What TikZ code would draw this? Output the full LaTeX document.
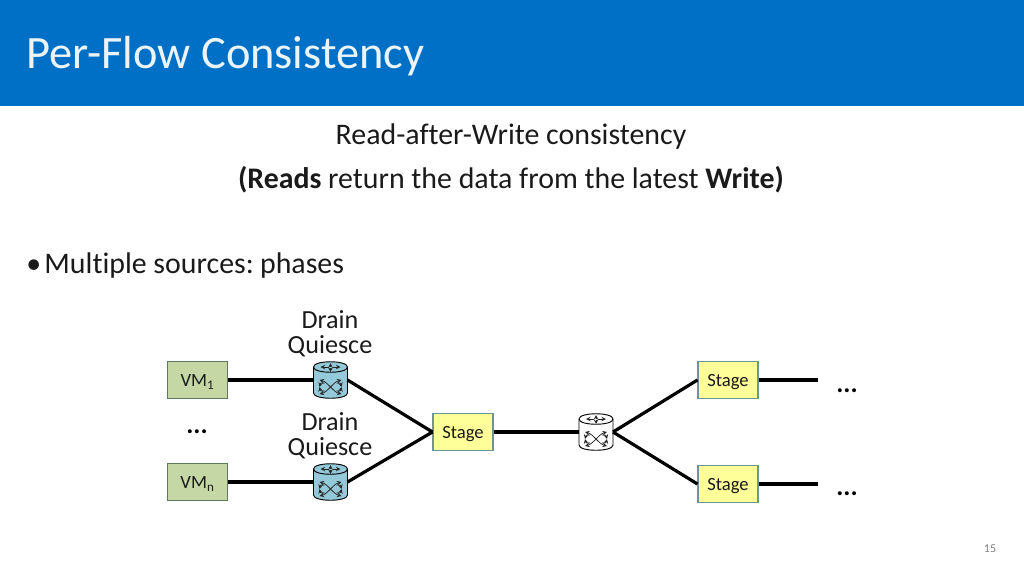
\documentclass[tikz,border=0pt]{standalone}
\usepackage{fontspec}
\setmainfont{Carlito}[Ligatures=NoCommon]
\definecolor{bandblue}{HTML}{0070C6}
\definecolor{vmgreen}{HTML}{C4D7A4}
\definecolor{vmedge}{HTML}{5E7A5E}
\definecolor{stageyellow}{HTML}{FFFF99}
\definecolor{stageedge}{HTML}{6F9494}
\definecolor{routerblue}{HTML}{93C9D8}
\definecolor{textgray}{HTML}{1A1A1A}
\tikzset{
	vmbox/.style={draw=vmedge, fill=vmgreen, line width=0.8pt, minimum width=45.5pt, minimum height=27.5pt, inner sep=0pt, text height=13pt, text depth=3pt, font=\fontsize{14}{16}\selectfont, text=textgray},
	stagebox/.style={draw=stageedge, fill=stageyellow, line width=0.8pt, minimum width=45pt, minimum height=27.5pt, inner sep=0pt, text height=13pt, text depth=3pt, font=\fontsize{14}{16}\selectfont, text=textgray},
	routerbox/.style={minimum width=25.5pt, minimum height=28pt, inner sep=0pt, outer sep=0pt},
	routerline/.style={line width=0.55pt, black!85, >=stealth},
	link/.style={line width=2.4pt},
	dots/.style={font=\fontsize{20}{22}\selectfont\bfseries, text=black, inner sep=0pt},
	body/.style={font=\fontsize{22.4}{26}\selectfont, text=textgray, inner sep=0pt},
	caption/.style={font=\fontsize{19.6}{19}\selectfont, text=textgray, align=center, inner sep=0pt}
}
\newcommand{\routernode}[3]{
	\node[routerbox] (#1) at (#2) {};
	\begin{scope}[shift={(#1.center)}]
		\draw[fill=#3, line width=0.7pt] (-17,-13) -- (-17,13) .. controls (-17,20) and (17,20) .. (17,13) -- (17,-13) .. controls (17,-20) and (-17,-20) .. (-17,-13) -- cycle;
		\draw[line width=0.7pt] (-17,-13) .. controls (-17,-6) and (17,-6) .. (17,-13);
		\draw[routerline, ->] (-2,-13) -- (-10,-13);
		\draw[routerline, ->] (2,-13) -- (10,-13);
		\draw[routerline, ->] (0,-13) -- (0,-17);
		\draw[routerline, ->] (0,-12) -- (0,-8);
		\draw[routerline, <->] (-11,14) .. controls (-3,12) and (3,2) .. (11,0);
		\draw[routerline, <->] (-11,0) .. controls (-3,2) and (3,12) .. (11,14);
		\draw[routerline, ->] (-6,3) .. controls (-10,3) .. (-11,7);
		\draw[routerline, ->] (6,3) .. controls (10,3) .. (11,7);
		\draw[routerline, ->] (-6,11) .. controls (-10,11) .. (-11,7);
		\draw[routerline, ->] (6,11) .. controls (10,11) .. (11,7);
	\end{scope}
}
\begin{document}
\begin{tikzpicture}[x=0.75pt, y=-0.75pt]
	\useasboundingbox (0,0) rectangle (1024,576);
	\fill[bandblue] (0,0) rectangle (1024,106);
	\node[anchor=west, text=white!92!bandblue, inner sep=0pt, font=\fontsize{34.8}{38}\selectfont] (title) at (26,56) {Per-Flow Consistency};
	
	\node[body] (rule) at (511,137) {Read-after-Write consistency};
	\node[body] (rule2) at (511,180) {\textbf{(Reads} return the data from the latest \textbf{Write)}};
	\node[body, anchor=west] (bullet) at (26,266) {\textbullet\hspace{2.5pt}Multiple sources:\kern-2pt{} phases};
	
	\node[vmbox] (vm1) at (197.5,380) {VM\textsubscript{1}};
	\node[vmbox] (vmn) at (197.5,482) {VM\textsubscript{n}};
	\node[dots] (d1) at (197,432) {...};
	
	\routernode{r1}{330.5,380}{routerblue}
	\routernode{r2}{330.5,482}{routerblue}
	\node[caption] (c1) at (330,334) {Drain\\Quiesce};
	\node[caption] (c2) at (330,436) {Drain\\Quiesce};
	
	\node[stagebox] (s0) at (463,432) {Stage};
	\routernode{r3}{596,432}{white}
	\node[stagebox] (s1) at (728,380) {Stage};
	\node[stagebox] (s2) at (728,484) {Stage};
	
	\coordinate (e1) at (818,380);
	\coordinate (e2) at (818,484);
	\node[dots] (d2) at (847,391) {...};
	\node[dots] (d3) at (847,494) {...};
	
	\node[text=gray, inner sep=0pt, font=\fontsize{9}{10}\selectfont] (page) at (990,549) {15};
	
	\path []
	(vm1) edge[link] (r1)
	(vmn) edge[link] (r2)
	(r1.east) edge[link] (s0.west)
	(r2.east) edge[link] (s0.west)
	(s0) edge[link] (r3)
	(r3.east) edge[link] (s1.west)
	(r3.east) edge[link] (s2.west)
	(s1) edge[link] (e1)
	(s2) edge[link] (e2);
\end{tikzpicture}
\end{document}
